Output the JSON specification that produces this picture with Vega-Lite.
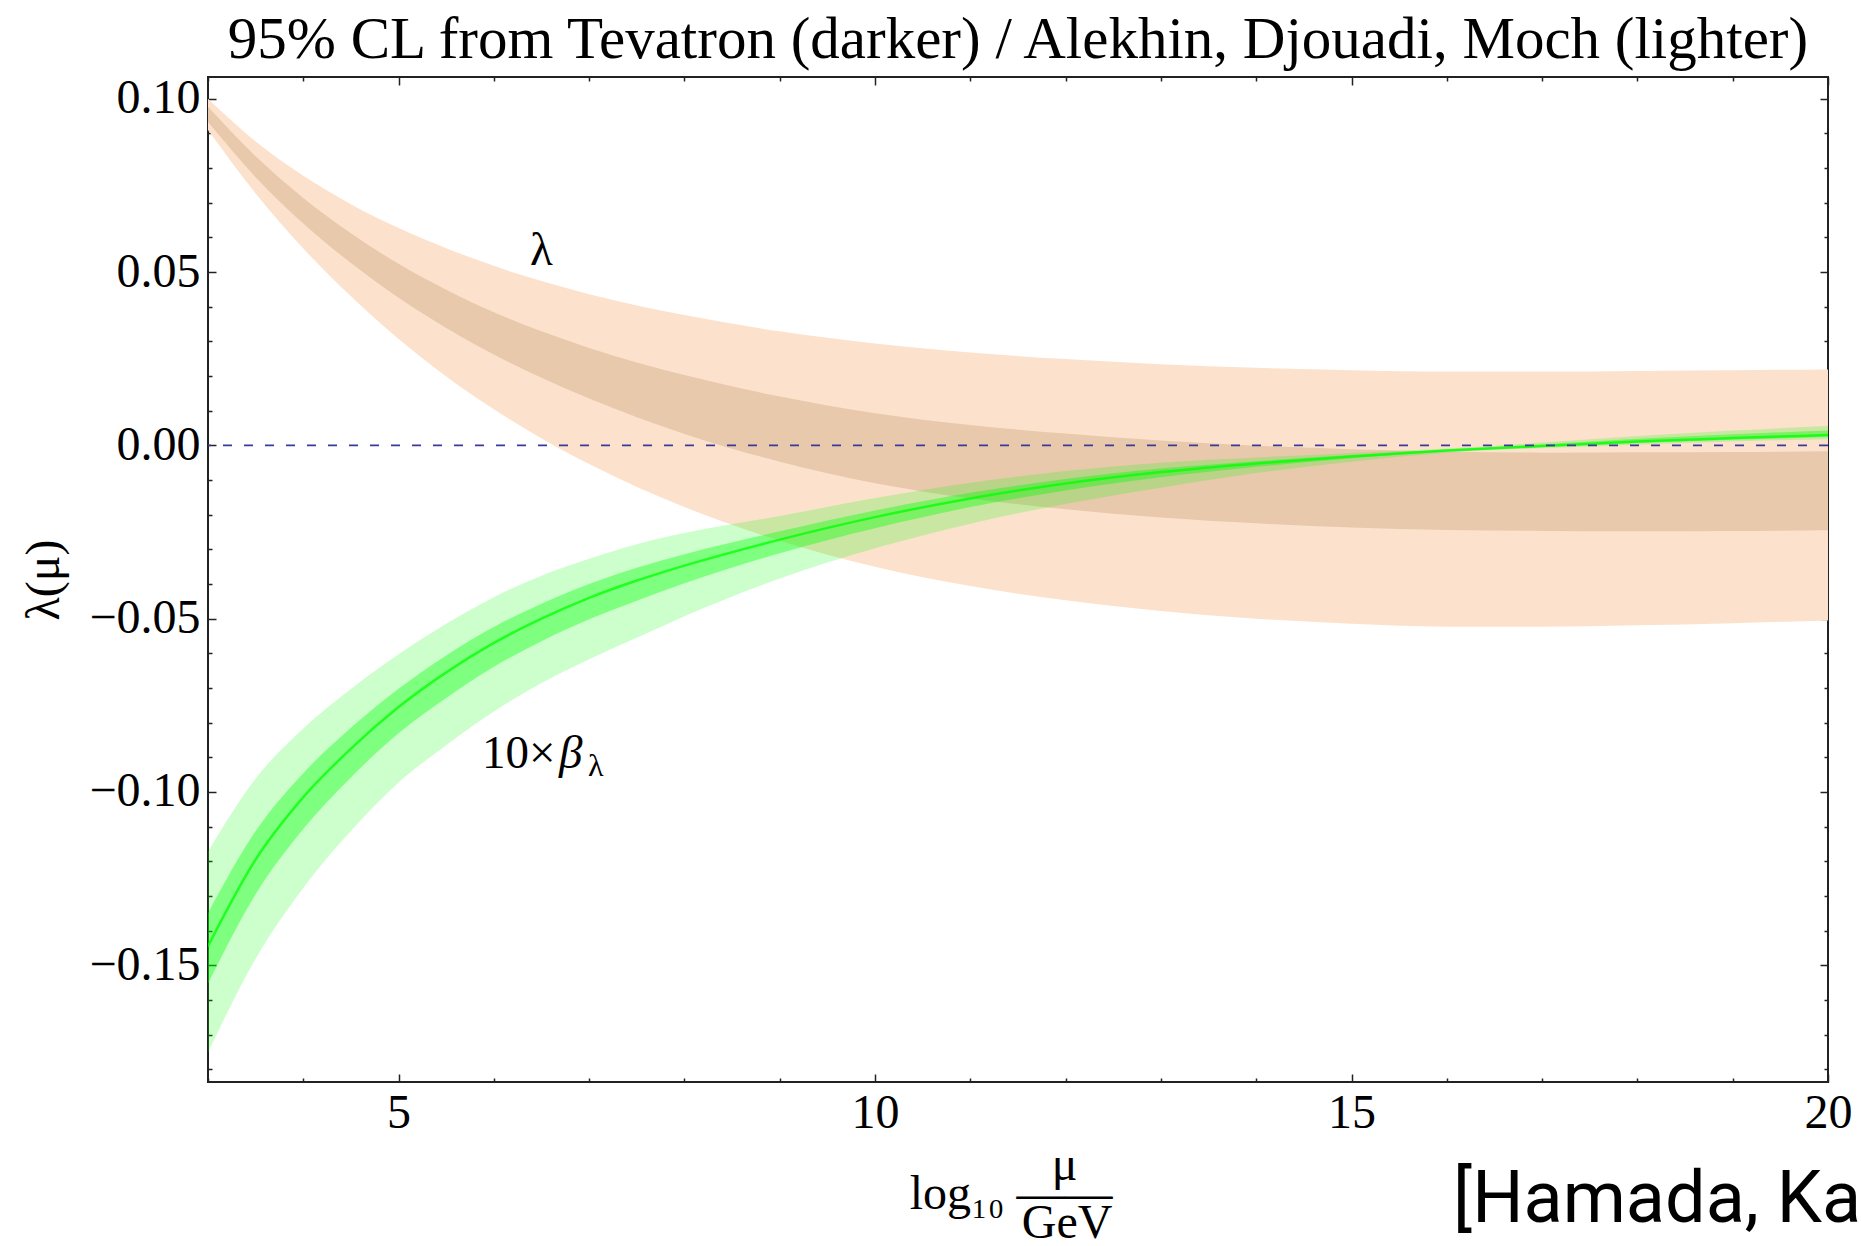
{
  "$schema": "https://vega.github.io/schema/vega-lite/v6.json",
  "width": 1620,
  "height": 1005,
  "autosize": {"type": "none"},
  "padding": {"left": 208, "top": 77, "right": 33, "bottom": 164},
  "background": "white",
  "title": {
    "text": "95% CL from Tevatron (darker) / Alekhin, Djouadi, Moch (lighter)",
    "font": "Liberation Serif",
    "fontSize": 59,
    "fontWeight": "normal",
    "color": "#000000",
    "anchor": "middle",
    "baseline": "alphabetic",
    "offset": 17,
    "dy": 59
  },
  "config": {
    "view": {"stroke": "#222222", "strokeWidth": 2},
    "axis": {
      "domain": false,
      "grid": false,
      "tickColor": "#222222",
      "tickWidth": 1.5,
      "labelFont": "Liberation Serif",
      "labelFontSize": 48,
      "labelColor": "#000000",
      "labelOverlap": false,
      "labelFlush": false,
      "titleFont": "Liberation Serif",
      "titleFontSize": 48,
      "titleFontWeight": "normal",
      "titleColor": "#000000"
    }
  },
  "datasets": {
    "curves": [
      {"x": 3, "lu": 0.1000, "ll": 0.0910, "du": 0.0977, "dl": 0.0933, "gu": -0.1172, "gl": -0.1752, "gdu": -0.1350, "gdl": -0.1553, "gc": -0.1445},
      {"x": 3.5, "lu": 0.0877, "ll": 0.0727, "du": 0.0834, "dl": 0.0774, "gu": -0.0961, "gl": -0.1481, "gdu": -0.1113, "gdl": -0.1295, "gc": -0.1195},
      {"x": 4, "lu": 0.0778, "ll": 0.0568, "du": 0.0714, "dl": 0.0640, "gu": -0.0817, "gl": -0.1277, "gdu": -0.0946, "gdl": -0.1107, "gc": -0.1015},
      {"x": 4.5, "lu": 0.0696, "ll": 0.0430, "du": 0.0612, "dl": 0.0526, "gu": -0.0703, "gl": -0.1113, "gdu": -0.0815, "gdl": -0.0958, "gc": -0.0875},
      {"x": 5, "lu": 0.0627, "ll": 0.0307, "du": 0.0524, "dl": 0.0426, "gu": -0.0603, "gl": -0.0973, "gdu": -0.0702, "gdl": -0.0831, "gc": -0.0755},
      {"x": 5.5, "lu": 0.0569, "ll": 0.0199, "du": 0.0449, "dl": 0.0339, "gu": -0.0515, "gl": -0.0865, "gdu": -0.0606, "gdl": -0.0729, "gc": -0.0655},
      {"x": 6, "lu": 0.0518, "ll": 0.0104, "du": 0.0384, "dl": 0.0262, "gu": -0.0438, "gl": -0.0768, "gdu": -0.0524, "gdl": -0.0639, "gc": -0.0570},
      {"x": 6.5, "lu": 0.0474, "ll": 0.0020, "du": 0.0329, "dl": 0.0195, "gu": -0.0376, "gl": -0.0686, "gdu": -0.0457, "gdl": -0.0565, "gc": -0.0500},
      {"x": 7, "lu": 0.0436, "ll": -0.0054, "du": 0.0281, "dl": 0.0135, "gu": -0.0327, "gl": -0.0617, "gdu": -0.0400, "gdl": -0.0502, "gc": -0.0440},
      {"x": 7.5, "lu": 0.0404, "ll": -0.0120, "du": 0.0239, "dl": 0.0081, "gu": -0.0285, "gl": -0.0555, "gdu": -0.0353, "gdl": -0.0448, "gc": -0.0390},
      {"x": 8, "lu": 0.0376, "ll": -0.0178, "du": 0.0203, "dl": 0.0033, "gu": -0.0253, "gl": -0.0493, "gdu": -0.0314, "gdl": -0.0398, "gc": -0.0347},
      {"x": 9, "lu": 0.0329, "ll": -0.0275, "du": 0.0141, "dl": -0.0047, "gu": -0.0204, "gl": -0.0384, "gdu": -0.0248, "gdl": -0.0311, "gc": -0.0272},
      {"x": 10, "lu": 0.0294, "ll": -0.0350, "du": 0.0093, "dl": -0.0109, "gu": -0.0152, "gl": -0.0297, "gdu": -0.0188, "gdl": -0.0239, "gc": -0.0207},
      {"x": 11, "lu": 0.0268, "ll": -0.0406, "du": 0.0059, "dl": -0.0153, "gu": -0.0108, "gl": -0.0226, "gdu": -0.0137, "gdl": -0.0178, "gc": -0.0153},
      {"x": 12, "lu": 0.0249, "ll": -0.0447, "du": 0.0034, "dl": -0.0184, "gu": -0.0074, "gl": -0.0169, "gdu": -0.0097, "gdl": -0.0130, "gc": -0.0110},
      {"x": 13, "lu": 0.0234, "ll": -0.0478, "du": 0.0014, "dl": -0.0208, "gu": -0.0050, "gl": -0.0122, "gdu": -0.0067, "gdl": -0.0092, "gc": -0.0077},
      {"x": 14, "lu": 0.0224, "ll": -0.0500, "du": -0.0001, "dl": -0.0225, "gu": -0.0035, "gl": -0.0080, "gdu": -0.0046, "gdl": -0.0062, "gc": -0.0052},
      {"x": 15, "lu": 0.0217, "ll": -0.0515, "du": -0.0011, "dl": -0.0237, "gu": -0.0022, "gl": -0.0047, "gdu": -0.0028, "gdl": -0.0037, "gc": -0.0032},
      {"x": 16, "lu": 0.0213, "ll": -0.0523, "du": -0.0018, "dl": -0.0244, "gu": -0.0009, "gl": -0.0021, "gdu": -0.0012, "gdl": -0.0018, "gc": -0.0015},
      {"x": 17, "lu": 0.0213, "ll": -0.0523, "du": -0.0021, "dl": -0.0247, "gu": 0.0008, "gl": -0.0008, "gdu": 0.0003, "gdl": -0.0005, "gc": -0.0002},
      {"x": 18, "lu": 0.0215, "ll": -0.0519, "du": -0.0020, "dl": -0.0248, "gu": 0.0027, "gl": 0.0002, "gdu": 0.0019, "gdl": 0.0007, "gc": 0.0011},
      {"x": 19, "lu": 0.0217, "ll": -0.0513, "du": -0.0019, "dl": -0.0247, "gu": 0.0043, "gl": 0.0011, "gdu": 0.0032, "gdl": 0.0016, "gc": 0.0021},
      {"x": 20, "lu": 0.0219, "ll": -0.0505, "du": -0.0017, "dl": -0.0245, "gu": 0.0056, "gl": 0.0018, "gdu": 0.0043, "gdl": 0.0024, "gc": 0.0030}
    ]
  },
  "layer": [
    {
      "data": {"name": "curves"},
      "mark": {"type": "area", "interpolate": "monotone", "color": "#FCE2CC", "clip": true},
      "encoding": {
        "x": {
          "field": "x", "type": "quantitative",
          "scale": {"domain": [3, 20], "nice": false, "zero": false},
          "axis": {
            "orient": "bottom",
            "values": [3, 4, 5, 6, 7, 8, 9, 10, 11, 12, 13, 14, 15, 16, 17, 18, 19, 20],
            "format": "d",
            "labelExpr": "datum.value % 5 === 0 ? datum.label : ''",
            "tickSize": {"condition": {"test": "datum.value % 5 === 0", "value": -8}, "value": -4},
            "labelPadding": 15,
            "title": ["μ\u2800", "log₁₀ ——", "GeV"],
            "titleAlign": "right",
            "titleX": 904,
            "titleLineHeight": 29,
            "titleBaseline": "alphabetic",
            "titleY": 97
          }
        },
        "y": {
          "field": "lu", "type": "quantitative",
          "scale": {"domain": [-0.1837, 0.1063], "nice": false, "zero": false},
          "axis": {
            "orient": "left",
            "values": [-0.18, -0.17, -0.16, -0.15, -0.14, -0.13, -0.12, -0.11, -0.1, -0.09, -0.08, -0.07, -0.06, -0.05, -0.04, -0.03, -0.02, -0.01, 0, 0.01, 0.02, 0.03, 0.04, 0.05, 0.06, 0.07, 0.08, 0.09, 0.1],
            "format": ".2f",
            "labelExpr": "abs(round(datum.value*100)) % 5 === 0 ? datum.label : ''",
            "tickSize": {"condition": {"test": "abs(round(datum.value*100)) % 5 === 0", "value": -8}, "value": -4},
            "labelPadding": 16,
            "title": "λ(μ)",
            "titlePadding": 20
          }
        },
        "y2": {"field": "ll"}
      }
    },
    {
      "data": {"name": "curves"},
      "mark": {"type": "area", "interpolate": "monotone", "color": "#E8C9AC", "clip": true},
      "encoding": {
        "x": {"field": "x", "type": "quantitative", "scale": {"domain": [3, 20], "nice": false, "zero": false}, "axis": null},
        "y": {"field": "du", "type": "quantitative", "scale": {"domain": [-0.1837, 0.1063], "nice": false, "zero": false}, "axis": null},
        "y2": {"field": "dl"}
      }
    },
    {
      "data": {"name": "curves"},
      "mark": {"type": "area", "interpolate": "monotone", "color": "#00FF00", "opacity": 0.2, "clip": true},
      "encoding": {
        "x": {
          "field": "x", "type": "quantitative",
          "scale": {"domain": [3, 20], "nice": false, "zero": false},
          "axis": {
            "orient": "top",
            "values": [3, 4, 5, 6, 7, 8, 9, 10, 11, 12, 13, 14, 15, 16, 17, 18, 19, 20],
            "labels": false,
            "tickSize": {"condition": {"test": "datum.value % 5 === 0", "value": -8}, "value": -4},
            "title": null
          }
        },
        "y": {
          "field": "gu", "type": "quantitative",
          "scale": {"domain": [-0.1837, 0.1063], "nice": false, "zero": false},
          "axis": {
            "orient": "right",
            "values": [-0.18, -0.17, -0.16, -0.15, -0.14, -0.13, -0.12, -0.11, -0.1, -0.09, -0.08, -0.07, -0.06, -0.05, -0.04, -0.03, -0.02, -0.01, 0, 0.01, 0.02, 0.03, 0.04, 0.05, 0.06, 0.07, 0.08, 0.09, 0.1],
            "labels": false,
            "tickSize": {"condition": {"test": "abs(round(datum.value*100)) % 5 === 0", "value": -8}, "value": -4},
            "title": null
          }
        },
        "y2": {"field": "gl"}
      }
    },
    {
      "data": {"name": "curves"},
      "mark": {"type": "area", "interpolate": "monotone", "color": "#00FF00", "opacity": 0.375, "clip": true},
      "encoding": {
        "x": {"field": "x", "type": "quantitative", "scale": {"domain": [3, 20], "nice": false, "zero": false}, "axis": null},
        "y": {"field": "gdu", "type": "quantitative", "scale": {"domain": [-0.1837, 0.1063], "nice": false, "zero": false}, "axis": null},
        "y2": {"field": "gdl"}
      }
    },
    {
      "data": {"name": "curves"},
      "mark": {"type": "line", "interpolate": "monotone", "color": "#00FF00", "opacity": 0.75, "strokeWidth": 2.5, "clip": true},
      "encoding": {
        "x": {"field": "x", "type": "quantitative", "scale": {"domain": [3, 20], "nice": false, "zero": false}, "axis": null},
        "y": {"field": "gc", "type": "quantitative", "scale": {"domain": [-0.1837, 0.1063], "nice": false, "zero": false}, "axis": null}
      }
    },
    {
      "data": {"values": [{"y": 0}]},
      "mark": {"type": "rule", "color": "#3A3A9A", "strokeWidth": 1.8, "strokeDash": [9, 12]},
      "encoding": {
        "y": {"field": "y", "type": "quantitative", "scale": {"domain": [-0.1837, 0.1063], "nice": false, "zero": false}, "axis": null}
      }
    },
    {
      "data": {"values": [{"x": 6.379, "y": 0.0521, "t": "λ"}, {"x": 5.875, "y": -0.0931, "t": "10×"}]},
      "mark": {"type": "text", "font": "Liberation Serif", "fontSize": 47, "align": "left", "baseline": "alphabetic", "color": "#000000"},
      "encoding": {
        "x": {"field": "x", "type": "quantitative", "scale": {"domain": [3, 20], "nice": false, "zero": false}, "axis": null},
        "y": {"field": "y", "type": "quantitative", "scale": {"domain": [-0.1837, 0.1063], "nice": false, "zero": false}, "axis": null},
        "text": {"field": "t"}
      }
    },
    {
      "data": {"values": [{"x": 6.683, "y": -0.0931, "t": "β"}]},
      "mark": {"type": "text", "font": "Liberation Serif", "fontSize": 47, "fontStyle": "italic", "align": "left", "baseline": "alphabetic", "color": "#000000"},
      "encoding": {
        "x": {"field": "x", "type": "quantitative", "scale": {"domain": [3, 20], "nice": false, "zero": false}, "axis": null},
        "y": {"field": "y", "type": "quantitative", "scale": {"domain": [-0.1837, 0.1063], "nice": false, "zero": false}, "axis": null},
        "text": {"field": "t"}
      }
    },
    {
      "data": {"values": [{"x": 6.988, "y": -0.0954, "t": "λ"}]},
      "mark": {"type": "text", "font": "Liberation Serif", "fontSize": 32, "align": "left", "baseline": "alphabetic", "color": "#000000"},
      "encoding": {
        "x": {"field": "x", "type": "quantitative", "scale": {"domain": [3, 20], "nice": false, "zero": false}, "axis": null},
        "y": {"field": "y", "type": "quantitative", "scale": {"domain": [-0.1837, 0.1063], "nice": false, "zero": false}, "axis": null},
        "text": {"field": "t"}
      }
    },
    {
      "data": {"values": [{"x": 16.066, "y": -0.2241, "t": "[Hamada, Ka"}]},
      "mark": {"type": "text", "font": "Roboto", "fontSize": 72, "align": "left", "baseline": "alphabetic", "color": "#000000"},
      "encoding": {
        "x": {"field": "x", "type": "quantitative", "scale": {"domain": [3, 20], "nice": false, "zero": false}, "axis": null},
        "y": {"field": "y", "type": "quantitative", "scale": {"domain": [-0.1837, 0.1063], "nice": false, "zero": false}, "axis": null},
        "text": {"field": "t"}
      }
    }
  ],
  "resolve": {"axis": {"x": "independent", "y": "independent"}}
}
